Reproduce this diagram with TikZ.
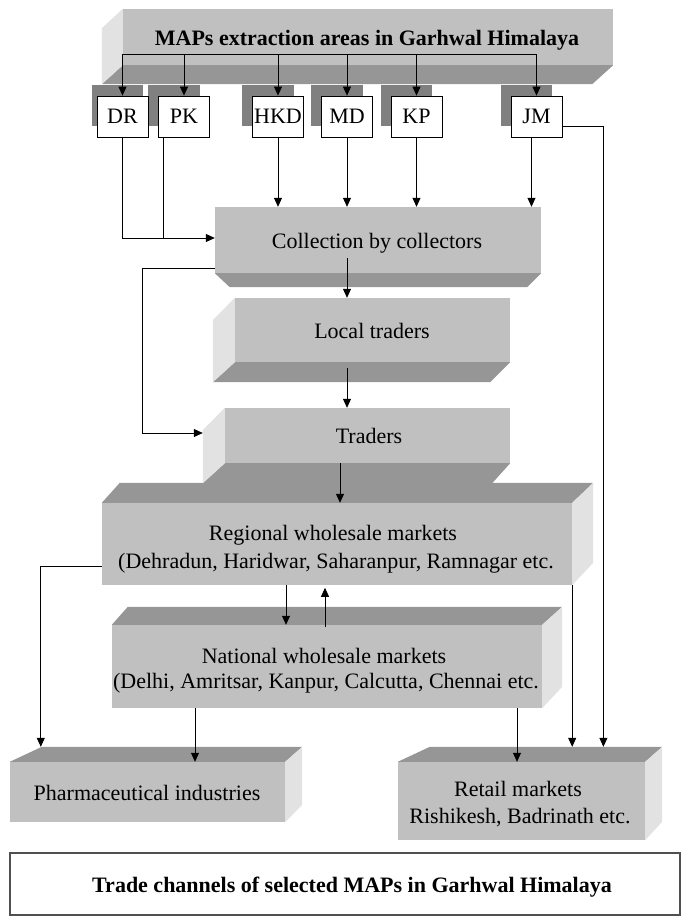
\documentclass[tikz,border=0pt]{standalone}
\usepackage{fontspec}
\setmainfont{Liberation Serif}
\usetikzlibrary{arrows.meta,backgrounds,calc}
\definecolor{frontc}{HTML}{C0C0C0}
\definecolor{darkc}{HTML}{969696}
\definecolor{lightc}{HTML}{E2E2E2}
\definecolor{shadc}{HTML}{808080}
\definecolor{capc}{HTML}{505050}
\begin{document}
\begin{tikzpicture}[x=1pt,y=-1pt,
  front/.style={fill=frontc, inner sep=0pt},
  txt/.style={inner sep=0pt, anchor=base, font=\fontsize{22}{26}\selectfont},
  btxt/.style={txt, font=\bfseries\fontsize{22}{26}\selectfont},
  sbox/.style={draw=black, fill=white, line width=0.8pt, minimum width=51pt, minimum height=41pt, inner sep=0pt, font=\fontsize{22}{26}\selectfont},
  conn/.style={line width=0.8pt},
  arr/.style={conn, -{Triangle[length=9pt,width=8pt]}},
  darkface/.style={fill=darkc},
  lightface/.style={fill=lightc},
  shadowbox/.style={fill=shadc}]
\useasboundingbox (0,0) rectangle (681,916);

% front faces
\node[front, minimum width=490pt, minimum height=56pt] (top) at (368,37) {};
\node[front, minimum width=326pt, minimum height=66pt] (coll) at (378,240) {};
\node[front, minimum width=275pt, minimum height=64pt] (loc) at (372.5,330) {};
\node[front, minimum width=285pt, minimum height=55pt] (tr) at (367.5,435.5) {};
\node[front, minimum width=470pt, minimum height=82pt] (reg) at (337,544) {};
\node[front, minimum width=430pt, minimum height=83pt] (nat) at (327,666.5) {};
\node[front, minimum width=275pt, minimum height=60pt] (ph) at (147.5,792) {};
\node[front, minimum width=247pt, minimum height=78pt] (ret) at (521.5,801) {};

% side faces
\fill[darkface] (top.south west) -- (top.south east) -- ++(-21,19) -- ($(top.south west)+(-21,19)$) -- cycle;
\fill[lightface] (top.north west) -- (top.south west) -- ++(-21,19) -- ++(0,-56) -- cycle;
\fill[darkface] (coll.south west) -- (coll.south east) -- ++(-14,14) -- ($(coll.south west)+(15,14)$) -- cycle;
\fill[darkface] (loc.south west) -- (loc.south east) -- ++(-20,20) -- ($(loc.south west)+(-22,20)$) -- cycle;
\fill[lightface] (loc.north west) -- (loc.south west) -- ++(-22,20) -- ++(0,-62) -- cycle;
\fill[darkface] (tr.south west) -- (tr.south east) -- ++(-18,20) -- ($(tr.south west)+(-22,20)$) -- cycle;
\fill[lightface] (tr.north west) -- (tr.south west) -- ++(-22,20) -- ++(0,-53) -- cycle;
\fill[darkface] (reg.north west) -- (reg.north east) -- ++(21,-20) -- ($(reg.north west)+(18,-20)$) -- cycle;
\fill[lightface] (reg.north east) -- ++(21,-20) -- ++(0,80) -- (reg.south east) -- cycle;
\fill[darkface] (nat.north west) -- (nat.north east) -- ++(20,-18) -- ($(nat.north west)+(16,-18)$) -- cycle;
\fill[lightface] (nat.north east) -- ++(20,-18) -- ++(0,80) -- (nat.south east) -- cycle;
\fill[darkface] (ph.north west) -- (ph.north east) -- ++(17,-15) -- ($(ph.north west)+(32,-15)$) -- cycle;
\fill[lightface] (ph.north east) -- ++(17,-15) -- ++(0,58) -- (ph.south east) -- cycle;
\fill[darkface] (ret.north west) -- (ret.north east) -- ++(17,-15) -- ($(ret.north west)+(32,-15)$) -- cycle;
\fill[lightface] (ret.north east) -- ++(17,-15) -- ++(0,75) -- (ret.south east) -- cycle;

% texts
\node[btxt] (toptxt) at (367,45) {MAPs extraction areas in Garhwal Himalaya};
\node[txt] (colltxt) at (377,248) {Collection by collectors};
\node[txt] (loctxt) at (372,338) {Local traders};
\node[txt] (trtxt) at (369,443) {Traders};
\node[txt] (regtxta) at (333,540) {Regional wholesale markets};
\node[txt] (regtxtb) at (336,568) {(Dehradun, Haridwar, Saharanpur, Ramnagar etc.};
\node[txt] (nattxta) at (324,663) {National wholesale markets};
\node[txt] (nattxtb) at (326,688) {(Delhi, Amritsar, Kanpur, Calcutta, Chennai etc.};
\node[txt] (phtxt) at (147,800) {Pharmaceutical industries};
\node[txt] (rettxta) at (518,796) {Retail markets};
\node[txt] (rettxtb) at (520,823) {Rishikesh, Badrinath etc.};

% small boxes
\node[sbox] (dr) at (122.5,116.5) {DR};
\node[sbox] (pk) at (184,116.5) {PK};
\node[sbox] (hkd) at (278,116.5) {HKD};
\node[sbox] (md) at (347,116.5) {MD};
\node[sbox] (kp) at (416.5,116.5) {KP};
\node[sbox] (jm) at (536.5,116.5) {JM};

\begin{pgfonlayer}{background}
  \fill[shadowbox] ([shift={(-5,-11)}]dr.south west) rectangle ([shift={(-5,-11)}]dr.north east);
  \foreach \n in {pk,hkd,md,kp,jm}
    \fill[shadowbox] ([shift={(-10,-11)}]\n.south west) rectangle ([shift={(-10,-11)}]\n.north east);
\end{pgfonlayer}

% caption
\node[draw=capc, line width=1.2pt, minimum width=670pt, minimum height=62pt, inner sep=0pt] (cap) at (345,884) {};
\node[btxt] (captxt) at (352,892) {Trade channels of selected MAPs in Garhwal Himalaya};

% connectors
\coordinate (bus) at ([yshift=11pt]top.south);
\draw[conn] (dr.north |- bus) -- (jm.north |- bus);
\foreach \n in {dr,pk,hkd,md,kp,jm}
  \draw[arr] (\n.north |- bus) -- (\n.north);

\coordinate (cin) at ([yshift=2pt]coll.west);
\draw[arr] (dr.south) |- (cin);
\draw[conn] ([xshift=-21pt]pk.south) coordinate (pkb) -- (pkb |- cin);
\foreach \n in {hkd,md,kp}
  \draw[arr] (\n.south) -- (\n.south |- coll.north);
\draw[arr] ([xshift=-5pt]jm.south) coordinate (jmb) -- (jmb |- coll.north);

\coordinate (rettop) at ([yshift=15pt]ret.north);
\draw[arr] ([yshift=-9.5pt]jm.east) -- ++(41,0) coordinate (jmc) -- (jmc |- rettop);

\draw[arr] ([xshift=-31pt,yshift=-18pt]coll.center) coordinate (c1) -- (c1 |- loc.north);
\draw[arr] ([xshift=-25.5pt,yshift=-6pt]loc.south) coordinate (l1) -- (l1 |- tr.north);
\draw[arr] ([yshift=-28pt]coll.west) -- ++(-72,0) |- ([xshift=-22pt,yshift=2.5pt]tr.west);
\draw[arr] ([xshift=-27.5pt]tr.south) coordinate (t1) -- (t1 |- reg.north);

\draw[arr] ([yshift=-22pt]reg.west) -| ([xshift=31pt,yshift=15pt]ph.north west);
\draw[arr] ([xshift=-51pt]reg.south) coordinate (r1) -- (r1 |- nat.north);
\draw[arr] ([xshift=-2pt,yshift=-2pt]nat.north) -- ++(0,-39);
\draw[arr] (reg.south east) -- (reg.south east |- rettop);

\draw[arr] ([xshift=-132pt]nat.south) coordinate (n2) -- (n2 |- ph.north);
\draw[arr] ([xshift=190pt]nat.south) coordinate (n3) -- (n3 |- ret.north);
\end{tikzpicture}
\end{document}
